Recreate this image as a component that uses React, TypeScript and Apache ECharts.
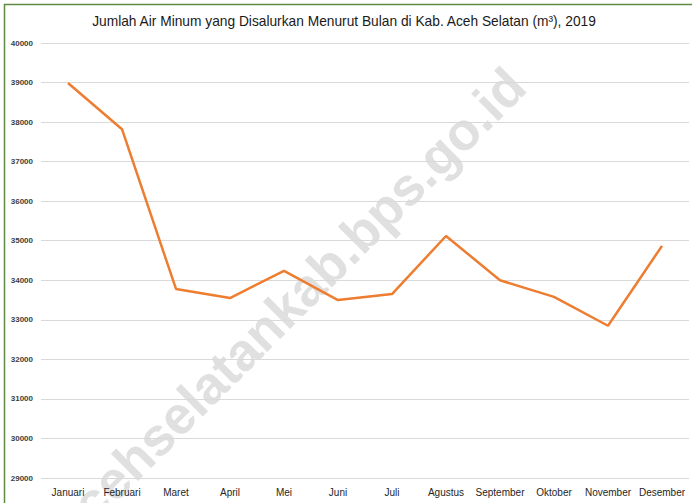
import React, { useEffect, useRef } from "react";
import * as echarts from "echarts";

const months = ["Januari", "Februari", "Maret", "April", "Mei", "Juni", "Juli", "Agustus", "September", "Oktober", "November", "Desember"];
const values = [38990, 37820, 33780, 33550, 34240, 33500, 33650, 35120, 34000, 33580, 32850, 34870];
const yMin = 29000;
const yMax = 40000;
const yStep = 1000;
const titleText = "Jumlah Air Minum yang Disalurkan Menurut Bulan di Kab. Aceh Selatan (m³), 2019";
const watermark = "acehselatankab.bps.go.id";

const NARROW = "'Liberation Sans Narrow', 'Arial Narrow', 'Liberation Sans', Arial, sans-serif";

export default function App() {
  const ref = useRef<HTMLDivElement>(null);
  useEffect(() => {
    const chart = echarts.init(ref.current!, null, { renderer: "svg" });
    chart.setOption({
      animation: false,
      backgroundColor: "#ffffff",
      title: {
        text: titleText,
        left: 339,
        textAlign: "center",
        top: 9,
        textStyle: { fontFamily: NARROW, fontSize: 13.75, fontWeight: "normal", color: "#1a1a1a" },
      },
      graphic: [
        {
          type: "rect",
          shape: { x: 4.5, y: 4.5, width: 800, height: 700 },
          style: { fill: "none", stroke: "#5f8a44", lineWidth: 1.5 },
          silent: true,
          z: 0,
        },
        {
          type: "text",
          x: 288,
          y: 305,
          rotation: Math.PI / 4,
          style: {
            text: watermark,
            fill: "#e0e0e0",
            font: "bold 53px 'Liberation Sans', Arial, sans-serif",
            textAlign: "center",
            textVerticalAlign: "middle",
          },
          silent: true,
          z: 0,
        },
      ],
      grid: { left: 41, right: 3, top: 43, bottom: 25, containLabel: false },
      xAxis: {
        type: "category",
        data: months,
        boundaryGap: true,
        axisLine: { show: false },
        axisTick: { show: false },
        axisLabel: { fontFamily: NARROW, fontSize: 10, color: "#262626", margin: 9, interval: 0 },
        splitLine: { show: false },
      },
      yAxis: {
        type: "value",
        min: yMin,
        max: yMax,
        interval: yStep,
        axisLine: { show: false },
        axisTick: { show: false },
        axisLabel: {
          fontFamily: NARROW,
          fontSize: 8,
          fontWeight: "bold",
          color: "#404040",
          margin: 8,
          formatter: (v: number) => String(v),
        },
        splitLine: { lineStyle: { color: "#d9d9d9", width: 1 } },
      },
      series: [
        {
          type: "line",
          data: values,
          symbol: "none",
          lineStyle: { color: "#ed7d31", width: 2.5 },
          z: 5,
        },
      ],
    });
    return () => chart.dispose();
  }, []);
  return <div ref={ref} style={{ position: "fixed", left: 0, top: 0, width: 692, height: 503 }} />;
}
